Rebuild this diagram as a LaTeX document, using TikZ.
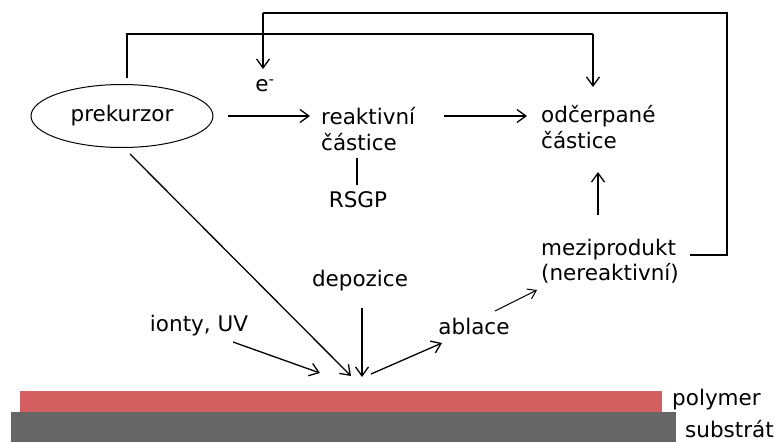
\documentclass[tikz,border=0pt]{standalone}
\usepackage{fontspec}
\setmainfont{DejaVu Sans}
\usetikzlibrary{arrows.meta,shapes.geometric}
\definecolor{polyred}{HTML}{D35F60}
\definecolor{subgray}{HTML}{666666}
\begin{document}
\begin{tikzpicture}[x=1pt,y=-1pt,
  lbl/.style={inner sep=0pt,font=\fontsize{21.5}{25.5}\selectfont,align=left},
  conn/.style={line width=1.3pt},
  arr/.style={conn,-{Straight Barb[length=9pt,width=13pt]}}]
\useasboundingbox (0,0) rectangle (775,442);
% layers
\fill[polyred] (20,391) rectangle (662,412);
\fill[subgray] (11,412) rectangle (676,442);
% nodes
\node[ellipse,draw,line width=1pt,minimum width=182pt,minimum height=63pt,lbl] (prek) at (122,116) {prekurzor};
\node[lbl] (e) at (265,86) {e\textsuperscript{-}};
\node[lbl,anchor=west] (reakt) at (321,129) {reaktivní\\částice};
\node[lbl] (rsgp) at (358,200) {RSGP};
\node[lbl,anchor=west] (odc) at (541,127) {odčerpané\\částice};
\node[lbl,anchor=west] (mezi) at (541,261) {meziprodukt\\(nereaktivní)};
\node[lbl] (depo) at (360,281) {depozice};
\node[lbl] (ionty) at (199,326) {ionty, UV};
\node[lbl] (abl) at (474,326) {ablace};
\node[lbl,anchor=base west] (poly) at (672,405) {polymer};
\node[lbl,anchor=base west] (subs) at (685,437) {substrát};
% coordinates
\coordinate (impL) at (351,376);
\coordinate (impM) at (362,377);
\coordinate (impI) at (320,373);
\coordinate (impR) at (371,374);
% connectors
\draw[conn] (127,78) -- (127,34) -- (593,34);
\draw[arr] (593,34) -- (593,87);
\draw[conn] (690,255) -- (727,255) -- (727,13) -- (263,13);
\draw[arr] (263,13) -- (263,69);
\draw[arr] (228,116) -- (310,116);
\draw[arr] (444,116) -- (527,116);
\draw[conn] (357,158) -- (357,185);
\draw[arr] (598,215) -- (598,172);
\draw[arr] (130,154) -- (impL);
\draw[arr] (362,308) -- (impM);
\draw[arr] (233,342) -- (impI);
\draw[arr] (impR) -- (442,343);
\draw[conn,-{Straight Barb[length=8pt,width=11pt]},line width=1pt] (495,311) -- (537,290);
\end{tikzpicture}
\end{document}
